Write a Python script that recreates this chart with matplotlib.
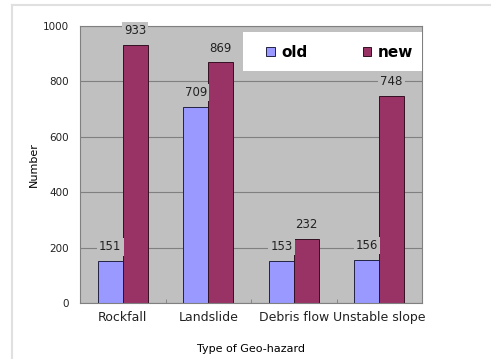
import numpy as np
import matplotlib.pyplot as plt
from matplotlib.patches import Rectangle
from matplotlib.lines import Line2D

categories = ['Rockfall', 'Landslide', 'Debris flow', 'Unstable slope']
old = [151, 709, 153, 156]
new = [933, 869, 232, 748]

fig = plt.figure(figsize=(4.91, 3.59), dpi=100, facecolor='w')
# light frame around the chart area
fig.add_artist(Line2D([12/491, 1], [1 - 5/359, 1 - 5/359], color='#e0e0e0', lw=1.5))
fig.add_artist(Line2D([12/491, 12/491], [0, 1 - 5/359], color='#e0e0e0', lw=1.5))

ax = fig.add_axes([80/491, 1 - 303/359, 342/491, 277/359], facecolor='#c0c0c0')
x = np.arange(len(categories))
w = 0.29
b1 = ax.bar(x - w/2, old, w, color='#9999ff', edgecolor='#222244', lw=0.7, label='old', zorder=2)
b2 = ax.bar(x + w/2, new, w, color='#993366', edgecolor='#331122', lw=0.7, label='new', zorder=2)

for bars, vals in ((b1, old), (b2, new)):
    for r, v in zip(bars, vals):
        ax.text(r.get_x() + r.get_width()/2, v + 28, str(v), ha='center', va='bottom',
                fontsize=8.5, color='#222222', zorder=3,
                bbox=dict(fc='#c0c0c0', ec='none', pad=1.5))

ax.set_xlim(-0.5, 3.5)
ax.set_ylim(0, 1000)
ax.set_yticks(range(0, 1001, 200))
ax.set_xticks(x)
ax.set_xticklabels(categories, fontsize=9, color='#222222')
ax.tick_params(axis='y', length=0, labelsize=7.5, pad=8, colors='#222222')
ax.tick_params(axis='x', length=0, pad=6)
# small category separator ticks on the bottom axis
ax.set_xticks([0.5, 1.5, 2.5], minor=True)
ax.tick_params(axis='x', which='minor', length=3, direction='in', color='#808080')
ax.grid(axis='y', color='#808080', lw=0.8, zorder=1)
ax.set_axisbelow(True)
for s in ax.spines.values():
    s.set_color('#808080')
    s.set_linewidth(0.8)

ax.set_ylabel('Number', fontsize=8, labelpad=3)
ax.set_xlabel('Type of Geo-hazard', fontsize=8, labelpad=14)

# legend box in the upper right of the plot area
ax.add_patch(Rectangle((1.406, 838), 2.094, 140, facecolor='white', edgecolor='none',
                       zorder=4))
leg = ax.legend(loc='center left', bbox_to_anchor=(0.545, 0.906), ncol=2, frameon=False,
                prop={'weight': 'bold', 'size': 11}, handlelength=0.55, handleheight=0.55,
                columnspacing=3.6, handletextpad=0.45, borderpad=0, borderaxespad=0)
leg.set_zorder(5)

fig.savefig('out.png', dpi=100)
